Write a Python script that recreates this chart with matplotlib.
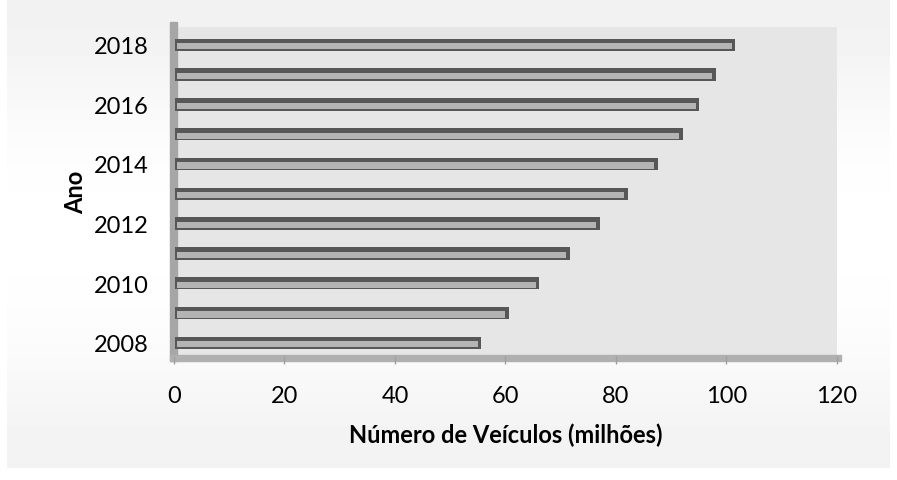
import numpy as np
import matplotlib.pyplot as plt
from matplotlib.patches import Rectangle

# dados (milhões de veículos por ano)
anos = [2008, 2009, 2010, 2011, 2012, 2013, 2014, 2015, 2016, 2017, 2018]
veiculos = [55.0, 60.0, 65.5, 71.0, 76.5, 81.5, 87.0, 91.5, 94.5, 97.5, 101.0]
x_ticks = [0, 20, 40, 60, 80, 100, 120]
y_ticks = [2008, 2010, 2012, 2014, 2016, 2018]

plt.rcParams['font.family'] = ['Lato', 'DejaVu Sans']

fig = plt.figure(figsize=(8.97, 4.81), dpi=100)

# fundo em degradê do gráfico
bg = fig.add_axes([0.008, 0.025, 0.984, 0.975], zorder=-10)
grad = np.array([0.945, 0.975, 0.995, 1.0, 0.995, 0.98, 0.95])
bg.imshow(grad[:, None], cmap='gray', vmin=0, vmax=1, aspect='auto',
          extent=[0, 1, 0, 1], interpolation='bicubic')
bg.set_axis_off()

ax = fig.add_axes([0.194, 0.258, 0.739, 0.684])
ax.set_facecolor('#e6e6e6')

# barras estilo 3D: contorno escuro (topo + lado) e face clara
for ano, v in zip(anos, veiculos):
    ax.barh(ano, v + 0.4, height=0.42, left=0.2, color='#575757', zorder=3)
    ax.barh(ano - 0.05, v - 0.6, height=0.21, left=0.55, color='#b4b4b4', zorder=4)

ax.set_xlim(0, 120)
ax.set_ylim(2007.56, 2018.6)
ax.set_xticks(x_ticks)
ax.set_yticks(y_ticks)
ax.tick_params(axis='x', length=6, width=1, color='#a0a0a0', labelsize=17, pad=15)
ax.tick_params(axis='y', length=0, labelsize=17, pad=18)
for s in ax.spines.values():
    s.set_visible(False)

# parede esquerda e piso
ax.add_patch(Rectangle((-0.006, -0.015), 0.011, 1.03, transform=ax.transAxes,
                       color='#a6a6a6', clip_on=False, zorder=1))
ax.add_patch(Rectangle((-0.006, -0.017), 1.012, 0.02, transform=ax.transAxes,
                       color='#b0b0b0', clip_on=False, zorder=1))

ax.set_xlabel('Número de Veículos (milhões)', fontsize=17, fontweight='bold', labelpad=12)
ax.set_ylabel('Ano', fontsize=17, fontweight='bold', labelpad=5)

fig.savefig('out.png', dpi=100)
